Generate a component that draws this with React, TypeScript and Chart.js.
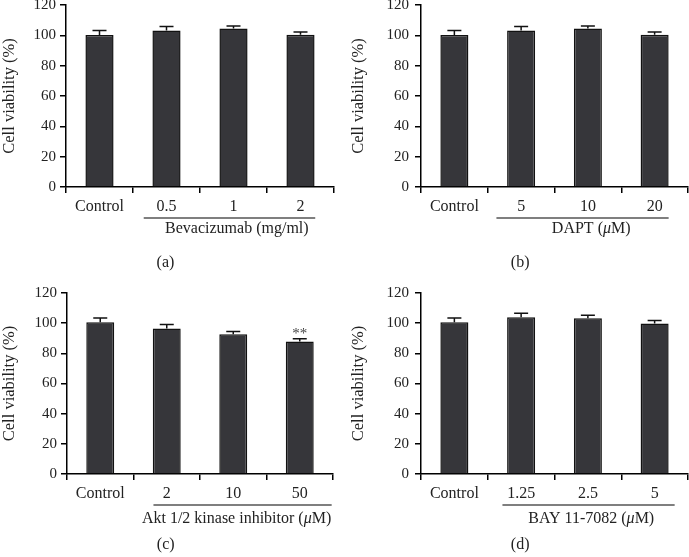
import React, { useEffect, useRef } from "react";
import { Chart, registerables } from "chart.js";

Chart.register(...registerables);

// ---- data ----
const yTicks = [0, 20, 40, 60, 80, 100, 120];

const catsA = ["Control", "0.5", "1", "2"];
const valsA = [100.3, 103.2, 104.5, 100.4];
const errA = [2.9, 2.6, 1.7, 1.8];
const sigA = ["", "", "", ""];
const groupA = "Bevacizumab (mg/ml)";

const catsB = ["Control", "5", "10", "20"];
const valsB = [100.3, 103.2, 104.5, 100.4];
const errB = [2.9, 2.6, 1.7, 1.8];
const sigB = ["", "", "", ""];
const groupB = "DAPT (\u03bcM)";

const catsC = ["Control", "2", "10", "50"];
const valsC = [100.6, 96.5, 92.7, 87.9];
const errC = [2.9, 2.6, 1.8, 1.7];
const sigC = ["", "", "", "**"];
const groupC = "Akt 1/2 kinase inhibitor (\u03bcM)";

const catsD = ["Control", "1.25", "2.5", "5"];
const valsD = [100.6, 104.0, 103.3, 99.8];
const errD = [2.9, 2.6, 2.0, 2.0];
const sigD = ["", "", "", ""];
const groupD = "BAY 11-7082 (\u03bcM)";

const FONT = "'Liberation Serif', 'Times New Roman', serif";

type Panel = {
  cats: string[];
  vals: number[];
  err: number[];
  sig: string[];
  group: string;
  letter: string;
  left: number;
  top: number;
  w: number;
  h: number;
  yW: number;
  padTop: number;
  padRight: number;
  xH: number;
  labelPad: number;
  lineY: number;
  groupY: number;
  letterY: number;
  lineStart: number;
  lineEnd: number;
};

const panels: Panel[] = [
  { cats: catsA, vals: valsA, err: errA, sig: sigA, group: groupA, letter: "(a)",
    left: 0, top: 0, w: 344, h: 280, yW: 66, padTop: 5, padRight: 10, xH: 93, labelPad: 4,
    lineY: 31, groupY: 42, letterY: 76, lineStart: -0.34, lineEnd: 0.22 },
  { cats: catsB, vals: valsB, err: errB, sig: sigB, group: groupB, letter: "(b)",
    left: 349, top: 0, w: 340, h: 280, yW: 72, padTop: 5, padRight: 1, xH: 93, labelPad: 6,
    lineY: 31, groupY: 42, letterY: 76, lineStart: -0.37, lineEnd: 0.21 },
  { cats: catsC, vals: valsC, err: errC, sig: sigC, group: groupC, letter: "(c)",
    left: 0, top: 280, w: 344, h: 277, yW: 67, padTop: 13, padRight: 11, xH: 83, labelPad: 4,
    lineY: 31, groupY: 45, letterY: 71, lineStart: -0.2, lineEnd: 0.48 },
  { cats: catsD, vals: valsD, err: errD, sig: sigD, group: groupD, letter: "(d)",
    left: 349, top: 280, w: 340, h: 277, yW: 72, padTop: 13, padRight: 1, xH: 83, labelPad: 6,
    lineY: 31, groupY: 45, letterY: 71, lineStart: -0.28, lineEnd: 0.3 },
];

function drawRich(ctx: CanvasRenderingContext2D, text: string, cx: number, cy: number, size: number) {
  const parts = text.split("\u03bc");
  const normal = `${size}px ${FONT}`;
  const italic = `italic ${size}px ${FONT}`;
  const segs: { t: string; f: string }[] = [];
  parts.forEach((t, i) => {
    if (i > 0) segs.push({ t: "\u03bc", f: italic });
    if (t) segs.push({ t, f: normal });
  });
  let total = 0;
  const widths = segs.map((s) => {
    ctx.font = s.f;
    const w = ctx.measureText(s.t).width;
    total += w;
    return w;
  });
  let x = cx - total / 2;
  ctx.textAlign = "left";
  ctx.textBaseline = "middle";
  segs.forEach((s, i) => {
    ctx.font = s.f;
    ctx.fillText(s.t, x, cy);
    x += widths[i];
  });
  return total;
}

function PanelChart({ p }: { p: Panel }) {
  const ref = useRef<HTMLCanvasElement | null>(null);
  useEffect(() => {
    if (!ref.current) return;
    const deco = {
      id: "deco",
      afterDatasetsDraw(chart: any) {
        const ctx = chart.ctx;
        const x = chart.scales.x;
        const y = chart.scales.y;
        const cw = x.getPixelForValue(1) - x.getPixelForValue(0);
        ctx.save();
        // error bars
        ctx.strokeStyle = "#111";
        ctx.lineWidth = 1.5;
        p.vals.forEach((v, i) => {
          const cx = x.getPixelForValue(i);
          const y0 = y.getPixelForValue(v);
          const y1 = y.getPixelForValue(v + p.err[i]);
          ctx.beginPath();
          ctx.moveTo(cx, y0);
          ctx.lineTo(cx, y1);
          ctx.moveTo(cx - 7, y1);
          ctx.lineTo(cx + 7, y1);
          ctx.stroke();
          if (p.sig[i]) {
            ctx.fillStyle = "#444";
            ctx.font = `15px ${FONT}`;
            ctx.textAlign = "center";
            ctx.textBaseline = "middle";
            ctx.fillText(p.sig[i], cx, y1 - 5);
          }
        });
        // group underline & label
        const bottom = chart.chartArea.bottom;
        ctx.font = `16px ${FONT}`;
        const gx = (x.getPixelForValue(1) + x.getPixelForValue(3)) / 2 + cw * 0.05;
        const tw = ctx.measureText(p.group).width;
        const ls = x.getPixelForValue(1) + cw * p.lineStart;
        const le = x.getPixelForValue(3) + cw * p.lineEnd;
        ctx.lineWidth = 1.2;
        ctx.strokeStyle = "#000";
        ctx.beginPath();
        ctx.moveTo(ls, bottom + p.lineY);
        ctx.lineTo(le, bottom + p.lineY);
        ctx.stroke();
        ctx.fillStyle = "#222";
        const lx = Math.min(gx, le - tw / 2);
        drawRich(ctx, p.group, lx, bottom + p.groupY, 16);
        ctx.font = `16px ${FONT}`;
        ctx.textAlign = "center";
        ctx.textBaseline = "middle";
        ctx.fillText(p.letter, x.getPixelForValue(1) - 1, bottom + p.letterY);
        ctx.restore();
      },
    };
    const chart = new Chart(ref.current, {
      type: "bar",
      data: {
        labels: p.cats,
        datasets: [
          {
            data: p.vals,
            backgroundColor: "#36363a",
            borderColor: "#111",
            borderWidth: 1.5,
            barPercentage: 0.42,
            categoryPercentage: 1,
          },
        ],
      },
      options: {
        animation: false,
        responsive: false,
        maintainAspectRatio: false,
        layout: { padding: { top: p.padTop, right: p.padRight, left: 0, bottom: 0 } },
        plugins: { legend: { display: false }, tooltip: { enabled: false } },
        scales: {
          x: {
            offset: true,
            grid: { offset: true, drawOnChartArea: false, drawTicks: true, tickLength: 6, color: "#000", lineWidth: 1.5 },
            border: { display: true, color: "#000", width: 1.5 },
            ticks: { color: "#222", font: { family: FONT, size: 16 }, padding: 4, maxRotation: 0, autoSkip: false },
            afterFit(scale: any) {
              scale.height = p.xH;
              scale.paddingLeft = 0;
              scale.paddingRight = 0;
            },
          },
          y: {
            min: 0,
            max: 120,
            afterBuildTicks(scale: any) {
              scale.ticks = yTicks.map((v) => ({ value: v }));
            },
            grid: { drawOnChartArea: false, drawTicks: true, tickLength: 6, color: "#000", lineWidth: 1.5 },
            border: { display: true, color: "#000", width: 1.5 },
            ticks: { color: "#222", font: { family: FONT, size: 15 }, padding: p.labelPad },
            title: { display: true, text: "Cell viability (%)", color: "#222", font: { family: FONT, size: 16.5 }, padding: 0 },
            afterFit(scale: any) {
              scale.width = p.yW;
              scale.paddingTop = 0;
              scale.paddingBottom = 0;
            },
          },
        },
      },
      plugins: [deco],
    });
    return () => chart.destroy();
  }, []);
  return (
    <canvas
      ref={ref}
      width={p.w}
      height={p.h}
      style={{ position: "absolute", left: p.left, top: p.top, width: p.w, height: p.h }}
    />
  );
}

export default function App() {
  return (
    <div style={{ position: "absolute", left: 0, top: 0, width: 689, height: 557, background: "#fff", overflow: "hidden" }}>
      {panels.map((p) => (
        <PanelChart key={p.letter} p={p} />
      ))}
    </div>
  );
}
